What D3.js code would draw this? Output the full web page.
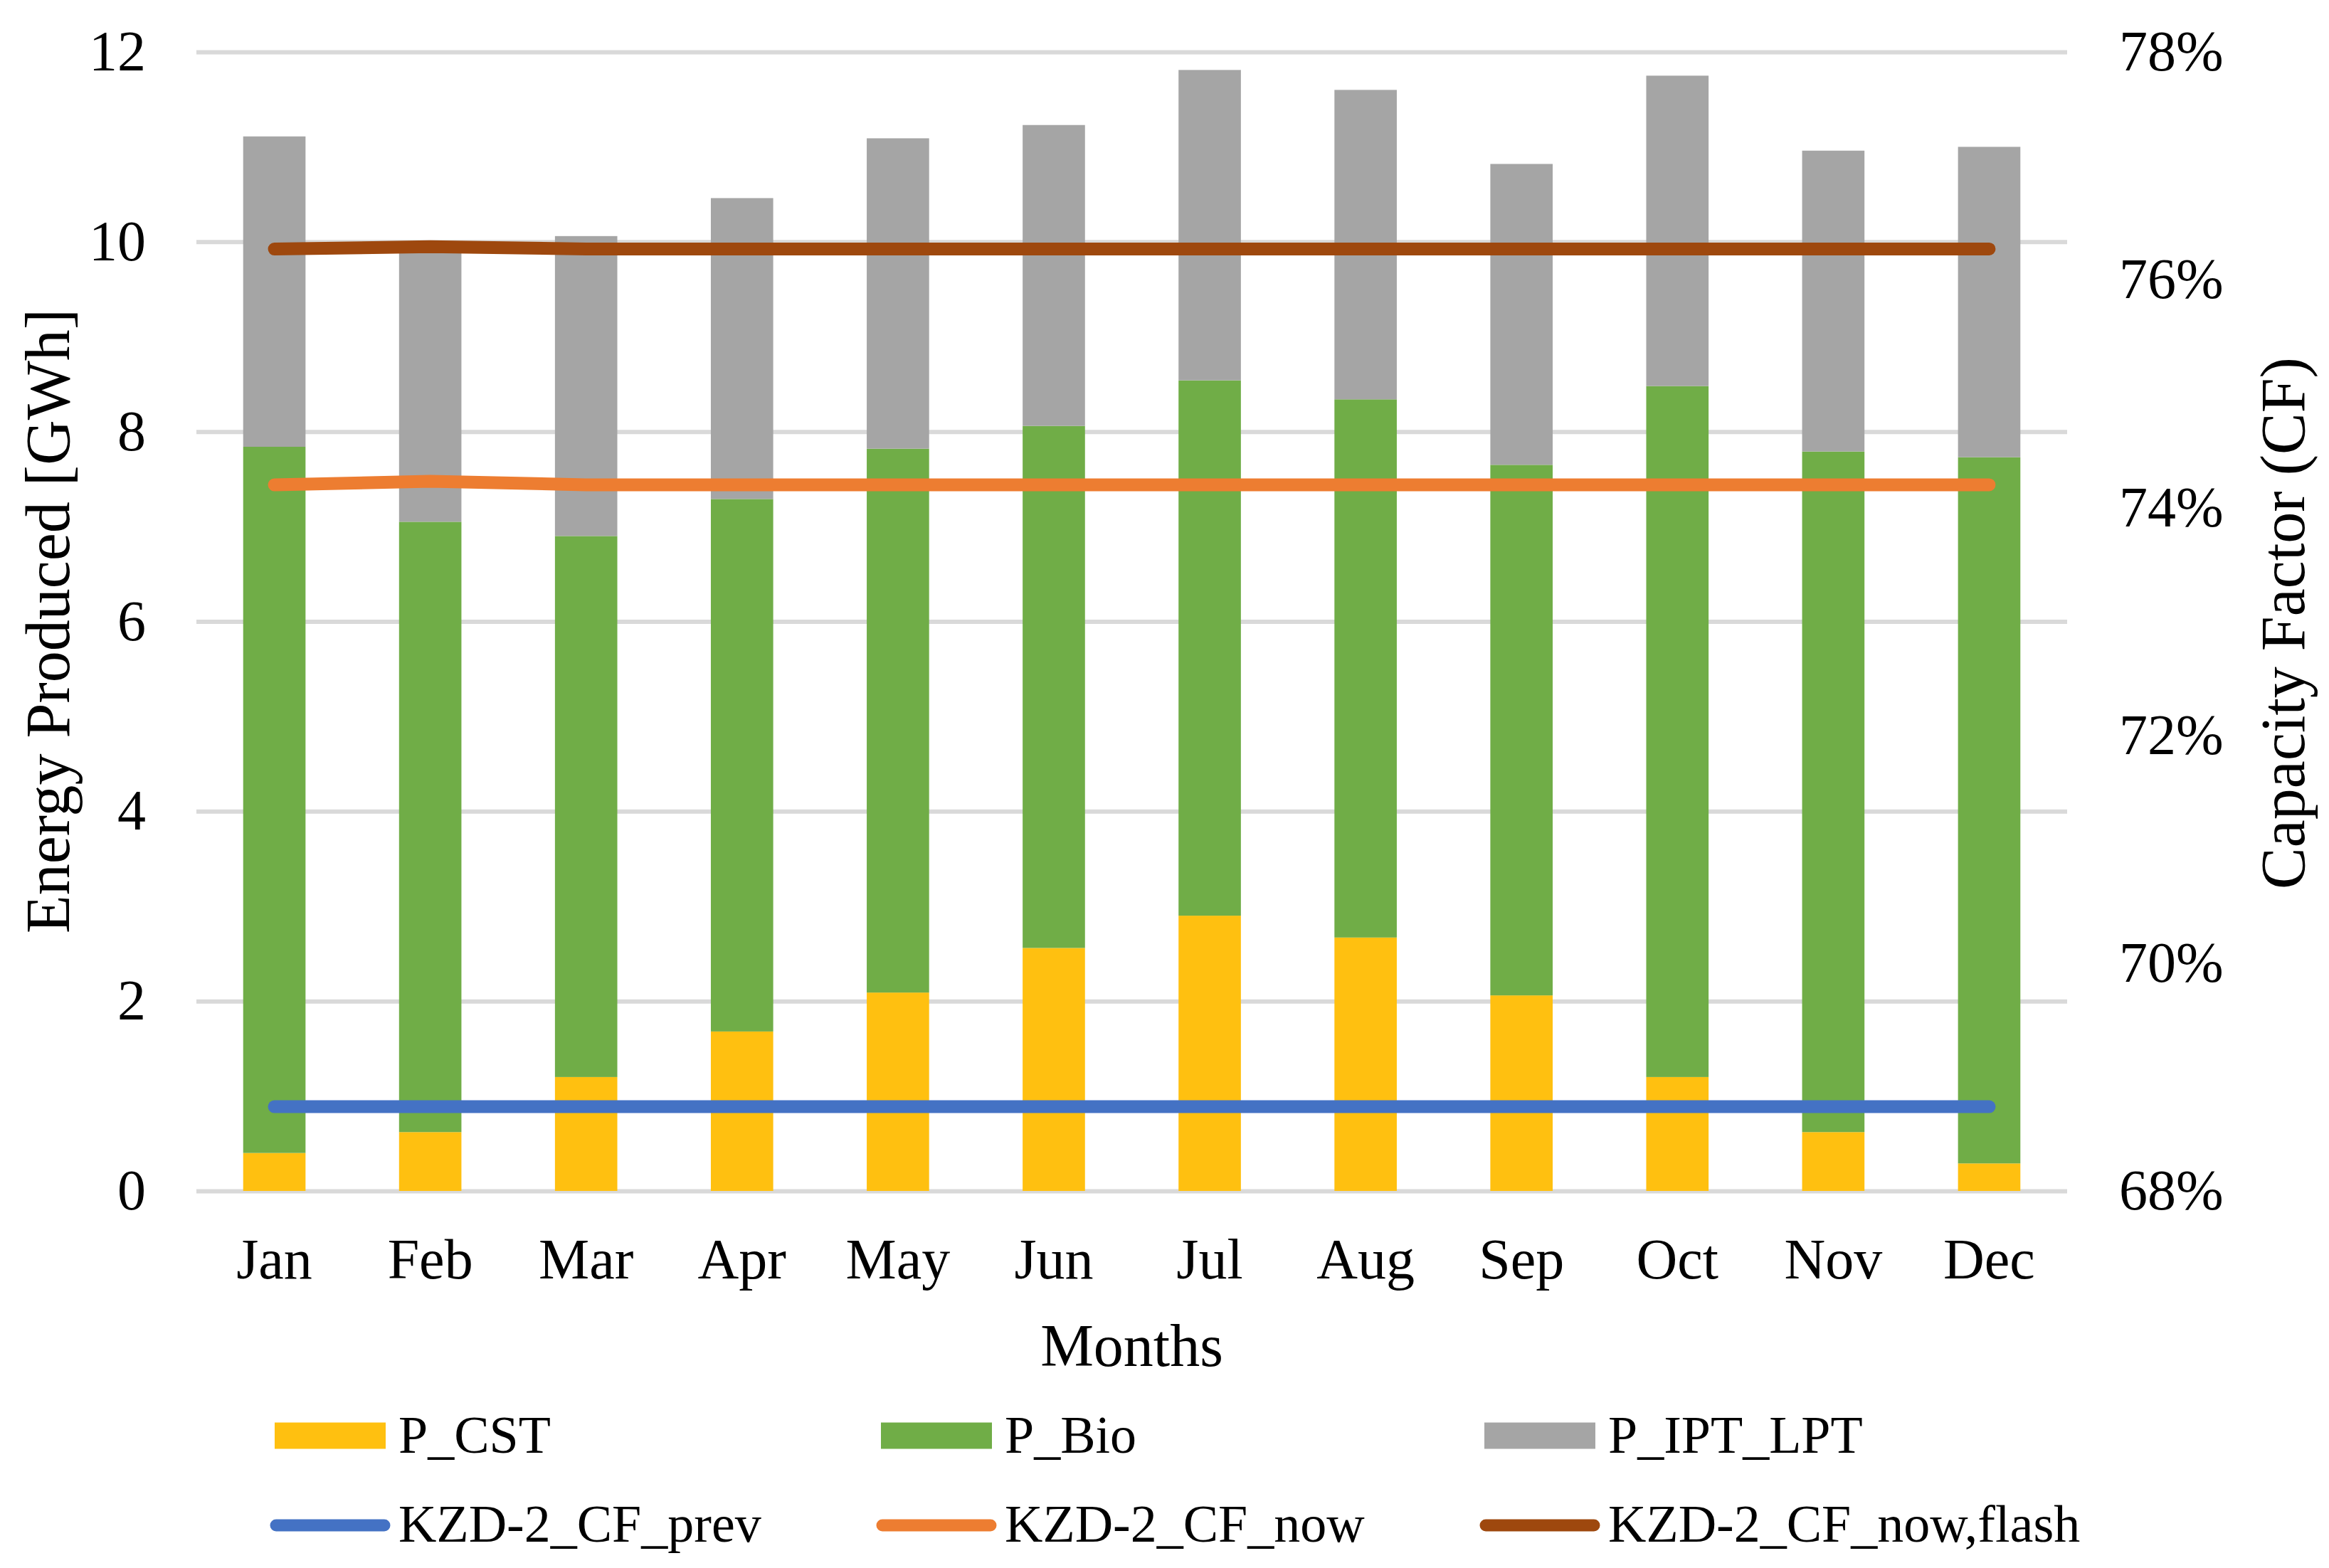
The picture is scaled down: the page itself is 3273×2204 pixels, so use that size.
<!DOCTYPE html>
<html>
<head>
<meta charset="utf-8">
<script src="https://cdn.jsdelivr.net/npm/d3@7"></script>
<style>
  body { margin: 0; background: #fff; }
  text { font-family: "Liberation Serif", "Times New Roman", serif; fill: #000; }
</style>
</head>
<body>
<script>
(function () {
  // data
  const months = ['Jan', 'Feb', 'Mar', 'Apr', 'May', 'Jun', 'Jul', 'Aug', 'Sep', 'Oct', 'Nov', 'Dec']
  const pCST = [0.40, 0.62, 1.20, 1.68, 2.09, 2.56, 2.90, 2.67, 2.06, 1.20, 0.62, 0.29]
  const pBio = [7.44, 6.43, 5.70, 5.61, 5.73, 5.50, 5.64, 5.67, 5.59, 7.28, 7.17, 7.44]
  const pIPT = [3.27, 2.95, 3.16, 3.17, 3.27, 3.17, 3.27, 3.26, 3.17, 3.27, 3.17, 3.27]
  const cfPrev = [0.6874, 0.6874, 0.6874, 0.6874, 0.6874, 0.6874, 0.6874, 0.6874, 0.6874, 0.6874, 0.6874, 0.6874]
  const cfNow = [0.7420, 0.7423, 0.7420, 0.7420, 0.7420, 0.7420, 0.7420, 0.7420, 0.7420, 0.7420, 0.7420, 0.7420]
  const cfFlash = [0.7627, 0.7629, 0.7627, 0.7627, 0.7627, 0.7627, 0.7627, 0.7627, 0.7627, 0.7627, 0.7627, 0.7627]
  const leftTicks = [0, 2, 4, 6, 8, 10, 12]
  const rightTicks = [0.68, 0.70, 0.72, 0.74, 0.76, 0.78]

  const barKeys = ['P_CST', 'P_Bio', 'P_IPT_LPT']
  const lineKeys = ['KZD-2_CF_prev', 'KZD-2_CF_now', 'KZD-2_CF_now,flash']
  const barColors = ['#FFC010', '#70AD47', '#A5A5A5']
  const lineColors = ['#4472C4', '#ED7D31', '#9E480E']

  const W = 3273, H = 2204
  const left = 276, right = 2905, top = 73, bottom = 1674

  const svg = d3.select('body').append('svg')
    .attr('width', W)
    .attr('height', H)

  const x = d3.scaleBand().domain(months).range([left, right])
    .paddingInner(0.6).paddingOuter(0.3)
  const y = d3.scaleLinear().domain([0, 12]).range([bottom, top])
  const y2 = d3.scaleLinear().domain([0.68, 0.78]).range([bottom, top])

  // gridlines
  const grid = svg.append('g')
    .attr('transform', `translate(${left},0)`)
    .call(d3.axisLeft(y).tickValues(leftTicks).tickSize(-(right - left)).tickFormat(''))
  grid.select('.domain').remove()
  grid.selectAll('line').attr('stroke', '#D9D9D9').attr('stroke-width', 6)

  // stacked bars
  const rows = months.map((m, i) => ({ month: m, P_CST: pCST[i], P_Bio: pBio[i], P_IPT_LPT: pIPT[i] }))
  const stack = d3.stack().keys(barKeys)(rows)

  svg.append('g').selectAll('g')
    .data(stack)
    .enter()
    .append('g')
    .attr('fill', (d, i) => barColors[i])
    .selectAll('rect')
    .data(d => d)
    .enter()
    .append('rect')
    .attr('x', d => x(d.data.month))
    .attr('width', x.bandwidth())
    .attr('y', d => y(d[1]))
    .attr('height', d => y(d[0]) - y(d[1]))

  // capacity factor lines
  const line = d3.line()
    .x((d, i) => x(months[i]) + x.bandwidth() / 2)
    .y(d => y2(d))

  svg.append('g').selectAll('path')
    .data([cfPrev, cfNow, cfFlash])
    .enter()
    .append('path')
    .attr('d', line)
    .attr('fill', 'none')
    .attr('stroke', (d, i) => lineColors[i])
    .attr('stroke-width', 18)
    .attr('stroke-linecap', 'round')
    .attr('stroke-linejoin', 'round')

  // axes
  const axL = svg.append('g')
    .attr('transform', `translate(${left},0)`)
    .call(d3.axisLeft(y).tickValues(leftTicks).tickSize(0).tickPadding(71))
  const axR = svg.append('g')
    .attr('transform', `translate(${right},0)`)
    .call(d3.axisRight(y2).tickValues(rightTicks).tickSize(0).tickPadding(73).tickFormat(d3.format('.0%')))
  const axB = svg.append('g')
    .attr('transform', `translate(0,${bottom})`)
    .call(d3.axisBottom(x).tickSize(0).tickPadding(66))

  ;[axL, axR, axB].forEach(g => {
    g.select('.domain').remove()
    g.selectAll('text')
      .attr('font-family', '"Liberation Serif", "Times New Roman", serif')
      .attr('font-size', 80)
      .attr('fill', '#000')
  })

  // axis titles
  svg.append('text')
    .attr('x', (left + right) / 2)
    .attr('y', 1920)
    .attr('text-anchor', 'middle')
    .attr('font-size', 84)
    .text('Months')

  svg.append('text')
    .attr('transform', 'translate(97,873) rotate(-90)')
    .attr('text-anchor', 'middle')
    .attr('font-size', 88)
    .text('Energy Produced [GWh]')

  svg.append('text')
    .attr('transform', 'translate(3238,876) rotate(-90)')
    .attr('text-anchor', 'middle')
    .attr('font-size', 88)
    .text('Capacity Factor (CF)')

  // legend
  const legX = [386, 1238, 2086]
  const legRow1 = 2018, legRow2 = 2144

  const leg1 = svg.append('g').selectAll('g')
    .data(barKeys)
    .enter()
    .append('g')
    .attr('transform', (d, i) => `translate(${legX[i]},${legRow1})`)
  leg1.append('rect')
    .attr('x', 0).attr('y', -18.5)
    .attr('width', 156).attr('height', 37)
    .attr('fill', (d, i) => barColors[i])
  leg1.append('text')
    .attr('x', 174).attr('y', 24)
    .attr('font-size', 74)
    .text(d => d)

  const leg2 = svg.append('g').selectAll('g')
    .data(lineKeys)
    .enter()
    .append('g')
    .attr('transform', (d, i) => `translate(${legX[i]},${legRow2})`)
  leg2.append('line')
    .attr('x1', 2).attr('x2', 154)
    .attr('y1', 0).attr('y2', 0)
    .attr('stroke', (d, i) => lineColors[i])
    .attr('stroke-width', 17)
    .attr('stroke-linecap', 'round')
  leg2.append('text')
    .attr('x', 174).attr('y', 23)
    .attr('font-size', 74)
    .text(d => d)
})()
</script>
</body>
</html>
